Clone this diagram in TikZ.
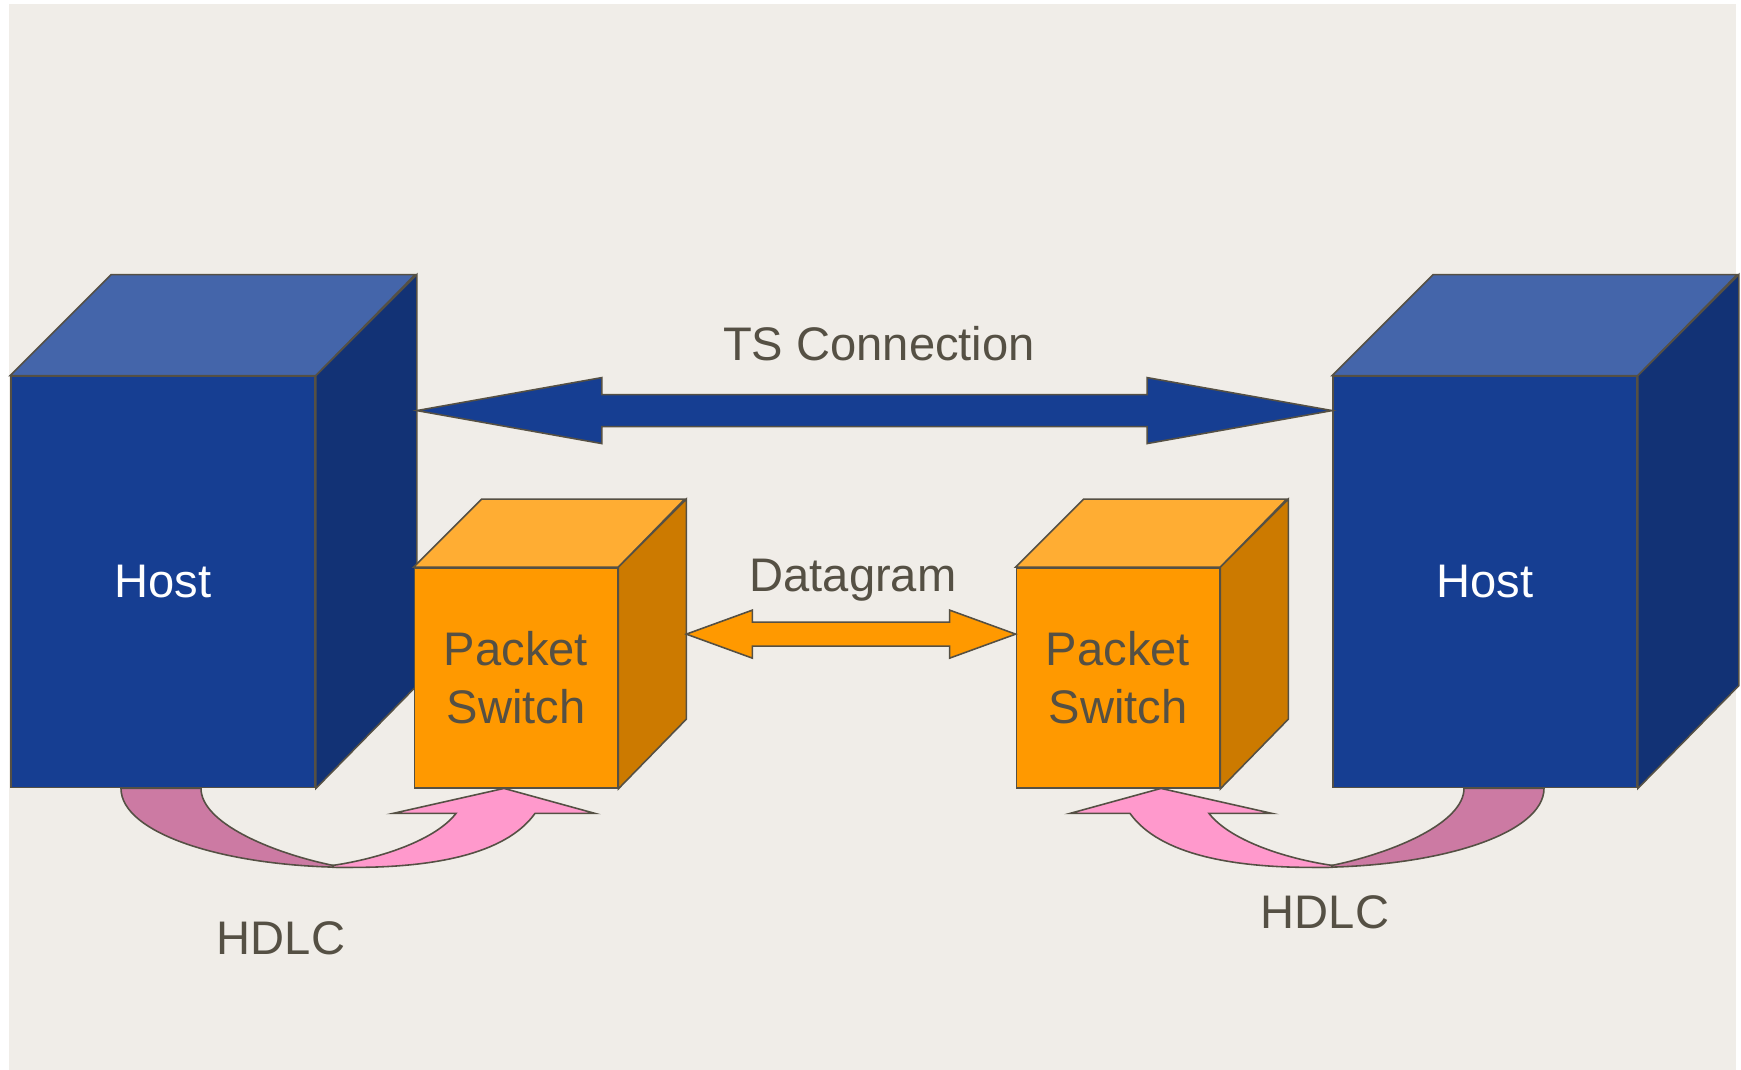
\documentclass[tikz,border=0pt]{standalone}
\usepackage{fontspec}
\setmainfont{Liberation Sans}
\usetikzlibrary{calc}

\definecolor{hgrund}{RGB}{240,237,232}
\definecolor{kante}{RGB}{85,80,68}
\definecolor{hostblau}{RGB}{22,62,146}
\definecolor{hosthell}{RGB}{68,101,170}
\definecolor{hostdunkel}{RGB}{18,50,117}
\definecolor{psorange}{RGB}{255,153,0}
\definecolor{pshell}{RGB}{255,173,51}
\definecolor{psdunkel}{RGB}{204,122,0}
\definecolor{rosa}{RGB}{255,153,204}
\definecolor{rosadunkel}{RGB}{204,122,163}

\begin{document}
\begin{tikzpicture}[x=0.01cm,y=-0.01cm]
	\tikzstyle{every node}=[font=\fontsize{13.4}{16.5}\selectfont,text=kante]
	\tikzstyle{rand}=[draw=kante,line width=0.45pt,line join=miter]
	\tikzstyle{hostfront}=[rand,fill=hostblau,minimum width=3.04cm,minimum height=4.11cm,inner sep=0pt,text=white]
	\tikzstyle{hosttop}=[rand,fill=hosthell]
	\tikzstyle{hostside}=[rand,fill=hostdunkel]
	\tikzstyle{psfront}=[rand,fill=psorange,minimum width=2.03cm,minimum height=2.2cm,inner sep=0pt,align=center]
	\tikzstyle{pstop}=[rand,fill=pshell]
	\tikzstyle{psside}=[rand,fill=psdunkel]
	\tikzstyle{tspfeil}=[rand,fill=hostblau]
	\tikzstyle{dgpfeil}=[rand,fill=psorange]
	\tikzstyle{hdlcdunkel}=[rand,fill=rosadunkel]
	\tikzstyle{hdlchell}=[rand,fill=rosa]
	\tikzstyle{txt}=[inner sep=0pt,anchor=base]
	
	%Hintergrund
	\useasboundingbox (0,0) rectangle (1741,1070);
	\fill[hgrund] (9,4) rectangle (1736,1070);
	
	%Hosts
	\node[hostfront] (hostL) at (163,582) {Host};
	\draw[hosttop] (hostL.north west) -- ++(101,-101) -- ++(304,0) -- (hostL.north east) -- cycle;
	\draw[hostside] (hostL.north east) -- ++(101,-101) -- ++(0,411) -- (hostL.south east) -- cycle;
	\node[hostfront] (hostR) at (1485,582) {Host};
	\draw[hosttop] (hostR.north west) -- ++(101,-101) -- ++(304,0) -- (hostR.north east) -- cycle;
	\draw[hostside] (hostR.north east) -- ++(101,-101) -- ++(0,411) -- (hostR.south east) -- cycle;
	
	%Packet Switches
	\node[psfront] (psL) at (516,678) {Packet\\Switch};
	\draw[pstop] (psL.north west) -- ++(68,-68) -- ++(203,0) -- (psL.north east) -- cycle;
	\draw[psside] (psL.north east) -- ++(68,-68) -- ++(0,220) -- (psL.south east) -- cycle;
	\node[psfront] (psR) at (1118,678) {Packet\\Switch};
	\draw[pstop] (psR.north west) -- ++(68,-68) -- ++(203,0) -- (psR.north east) -- cycle;
	\draw[psside] (psR.north east) -- ++(68,-68) -- ++(0,220) -- (psR.south east) -- cycle;
	
	%TS Connection
	\coordinate (tsL) at ($(hostL.north east)+(101,35)$);
	\coordinate (tsR) at ($(hostR.north west)+(0,35)$);
	\draw[tspfeil] (tsL) -- ++(185,-33) -- ++(0,17) -- ($(tsR)+(-185,-16)$) -- ++(0,-17) -- (tsR)
		-- ++(-185,33) -- ++(0,-17) -- ($(tsL)+(185,16)$) -- ++(0,17) -- cycle;
	\node[txt] (ts) at (879,361) {TS Connection};
	
	%Datagram
	\coordinate (dgL) at ($(psL.north east)+(68,67)$);
	\coordinate (dgR) at ($(psR.north west)+(0,67)$);
	\draw[dgpfeil] (dgL) -- ++(66,-24) -- ++(0,12) -- ($(dgR)+(-66,-12)$) -- ++(0,-12) -- (dgR)
		-- ++(-66,24) -- ++(0,-12) -- ($(dgL)+(66,12)$) -- ++(0,12) -- cycle;
	\node[txt] (dg) at (853,592) {Datagram};
	
	%HDLC links
	\coordinate (kL) at ($(hostL.south)+(170,77)$);
	\draw[hdlcdunkel] ($(kL)+(-212,-77)$) .. controls +(0,45) and +(-128,0) .. ($(kL)+(20,2)$) -- (kL)
		.. controls +(-63,-13) and +(0,34) .. ($(kL)+(-132,-77)$) -- cycle;
	\draw[hdlchell] (kL) .. controls +(47,-7) and +(-21,27) .. ($(kL)+(123,-52)$) -- ++(-63,0)
		-- ($(kL)+(171,-77)$) -- ($(kL)+(262,-52)$) -- ++(-60,0)
		.. controls +(-30,42) and +(77,0) .. ($(kL)+(20,2)$) -- ($(kL)+(0,2)$) -- cycle;
	\node[txt] (hdlcL) at (281,955) {HDLC};
	
	%HDLC rechts
	\coordinate (kR) at ($(hostR.south)+(-153,77)$);
	\draw[hdlcdunkel] ($(kR)+(212,-77)$) .. controls +(0,45) and +(128,0) .. ($(kR)+(-20,2)$) -- (kR)
		.. controls +(63,-13) and +(0,34) .. ($(kR)+(132,-77)$) -- cycle;
	\draw[hdlchell] (kR) .. controls +(-47,-7) and +(21,27) .. ($(kR)+(-123,-52)$) -- ++(63,0)
		-- ($(kR)+(-171,-77)$) -- ($(kR)+(-262,-52)$) -- ++(60,0)
		.. controls +(30,42) and +(-77,0) .. ($(kR)+(-20,2)$) -- ($(kR)+(0,2)$) -- cycle;
	\node[txt] (hdlcR) at (1325,928) {HDLC};
	
\end{tikzpicture}
\end{document}
